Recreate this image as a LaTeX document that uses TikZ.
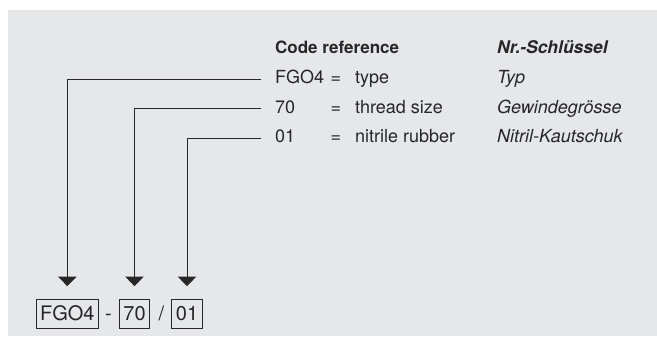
\documentclass[tikz,border=0pt]{standalone}
\usepackage{fontspec}
\setmainfont{TeX Gyre Heros}
\usepackage{tikz}
\usetikzlibrary{arrows.meta, calc, positioning}
\definecolor{panelgray}{RGB}{230, 231, 233}
\definecolor{inkgray}{RGB}{40, 38, 38}

\begin{document}
\begin{tikzpicture}[line join=miter, >={Triangle[width=18.5pt,length=9.5pt]}, x=1pt, y=-1pt,
	txt/.style={anchor=base west, inner sep=0pt, text=inkgray, font=\fontsize{18}{20}\selectfont},
	codebox/.style={draw=inkgray, line width=0.8pt, anchor=base, inner xsep=4pt, inner ysep=0pt,
		text height=21pt, text depth=8pt, text=inkgray, font=\fontsize{20}{24}\selectfont},
	sep/.style={anchor=base, inner sep=0pt, text=inkgray, font=\fontsize{20}{24}\selectfont},
	conn/.style={->, draw=inkgray, line width=0.9pt}]
	% canvas and grey panel
	\useasboundingbox (0,0) rectangle (657,338);
	\fill[panelgray] (8,10) rectangle (657,336);

	% table header
	\node[txt, font=\fontsize{17}{20}\selectfont\bfseries] (hcode) at (275,53.5) {Code reference};
	\node[txt, font=\fontsize{17.5}{20}\selectfont\bfseries\itshape] (hkey) at (497,53.5) {Nr.-Schlüssel};

	% rows: key, equals sign, english, german
	\node[txt] (k1) at (275,83.5) {FGO4};
	\node[txt] (e1) at (330.5,83.5) {=};
	\node[txt] (en1) at (355,83.5) {type};
	\node[txt, font=\fontsize{18}{20}\selectfont\itshape] (de1) at (497,83.5) {Typ};

	\node[txt] (k2) at (275,113) {70};
	\node[txt] (e2) at (330.5,113) {=};
	\node[txt] (en2) at (355,113) {thread size};
	\node[txt, font=\fontsize{18}{20}\selectfont\itshape] (de2) at (497,113) {Gewindegrösse};

	\node[txt] (k3) at (275,142.5) {01};
	\node[txt] (e3) at (330.5,142.5) {=};
	\node[txt] (en3) at (355,142.5) {nitrile rubber};
	\node[txt, font=\fontsize{18}{20}\selectfont\itshape] (de3) at (497,142.5) {Nitril-Kautschuk};

	% the code itself
	\node[codebox] (b1) at (67.3,320) {FGO4};
	\node[sep] (d1) at (108.5,320) {-};
	\node[codebox] (b2) at (134.5,320) {70};
	\node[sep] (d2) at (161.5,320) {/};
	\node[codebox] (b3) at (187,320) {01};

	% leader lines from the rows down to the boxes
	\coordinate (s1) at ([xshift=-14pt,yshift=4pt]k1.base west);
	\coordinate (s2) at ([xshift=-14pt,yshift=4.3pt]k2.base west);
	\coordinate (s3) at ([xshift=-14pt,yshift=4.5pt]k3.base west);
	\draw[conn] (s1) -| ([yshift=12.5pt]b1.north);
	\draw[conn] (s2) -| ([yshift=12.5pt]b2.north);
	\draw[conn] (s3) -| ([yshift=12.5pt]b3.north);
\end{tikzpicture}
\end{document}
